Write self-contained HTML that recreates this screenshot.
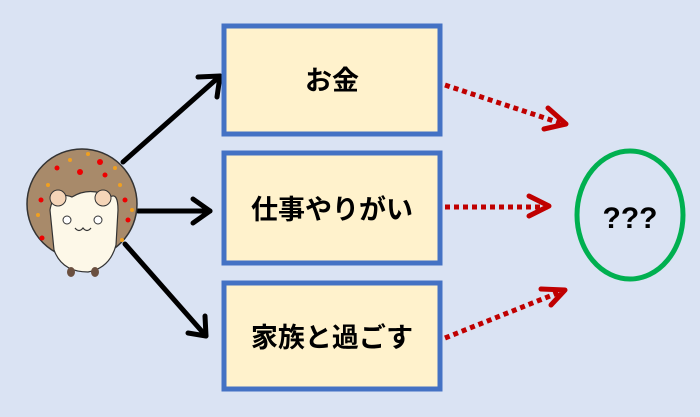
<!DOCTYPE html>
<html><head><meta charset="utf-8"><style>
body{margin:0;width:700px;height:417px;background:#dae3f3;overflow:hidden}
svg{display:block}
</style></head><body>
<svg width="700" height="417" viewBox="0 0 700 417">
<rect width="700" height="417" fill="#dae3f3"/>
<g stroke="#000" stroke-width="5" fill="none" stroke-linecap="round" stroke-linejoin="round">
<line x1="123" y1="162" x2="220" y2="76"/><polyline points="198,77 220,76 217,97"/>
<line x1="138" y1="211" x2="210" y2="211"/><polyline points="193,199 210,211 193,223"/>
<line x1="125" y1="244" x2="206" y2="336"/><polyline points="188,333 206,336 205,316"/>
</g>
<g stroke="#c00000" stroke-width="5" fill="none">
<line x1="445" y1="85" x2="560" y2="123" stroke-dasharray="5,4"/>
<line x1="445" y1="207" x2="548" y2="207" stroke-dasharray="5,4"/>
<line x1="445" y1="338" x2="560" y2="292" stroke-dasharray="5,4"/>
</g>
<g stroke="#c00000" stroke-width="5" fill="none" stroke-linecap="round" stroke-linejoin="round">
<polyline points="548,108 566,124 544,129"/>
<polyline points="529,196 549,206 529,216"/>
<polyline points="541,289 565,290 551,305"/>
</g>
<g fill="#fff2cc" stroke="#4472c4" stroke-width="5">
<rect x="224" y="26" width="216" height="108"/>
<rect x="224" y="153" width="216" height="110"/>
<rect x="224" y="283" width="216" height="106"/>
</g>
<g font-family="Liberation Sans,'Noto Sans CJK JP',sans-serif" font-weight="bold" font-size="27" text-anchor="middle" fill="#000">
<text x="332" y="90">お金</text>
<text x="332" y="219">仕事やりがい</text>
<text x="332" y="347">家族と過ごす</text>
<text x="630" y="228" font-size="30">???</text>
</g>
<ellipse cx="630" cy="215" rx="53" ry="64" fill="none" stroke="#00b050" stroke-width="5"/>
<!-- hedgehog -->
<circle cx="82" cy="204" r="55" fill="#a88a6a" stroke="#333" stroke-width="1.5"/>
<g fill="#e00">
<circle cx="100" cy="162" r="3"/><circle cx="80" cy="172" r="3"/><circle cx="57" cy="168" r="2.5"/><circle cx="105" cy="175" r="2.5"/><circle cx="125" cy="200" r="2.5"/><circle cx="41" cy="200" r="2.5"/><circle cx="42" cy="238" r="2.5"/><circle cx="128" cy="220" r="2.5"/>
</g>
<g fill="#f0a020">
<circle cx="88" cy="154" r="2"/><circle cx="70" cy="160" r="2"/><circle cx="115" cy="168" r="2"/><circle cx="48" cy="185" r="2"/><circle cx="120" cy="185" r="2"/><circle cx="38" cy="215" r="2"/><circle cx="132" cy="210" r="2"/><circle cx="122" cy="240" r="2"/>
</g>
<path d="M50,210 Q53,190 72,197 Q90,186 110,197 Q118,192 118,210 L116,245 Q110,268 88,272 Q62,272 54,250 Z" fill="#fdf8e8" stroke="#333" stroke-width="1.2"/>
<circle cx="58" cy="198" r="8" fill="#f5d5b8" stroke="#333"/>
<circle cx="103" cy="198" r="8" fill="#f5d5b8" stroke="#333"/>
<circle cx="67" cy="220" r="4" fill="#fff" stroke="#333"/>
<circle cx="98" cy="220" r="4" fill="#fff" stroke="#333"/>
<path d="M75,228 q4,5 8,0 q4,5 8,0" fill="none" stroke="#333" stroke-width="1.2"/>
<ellipse cx="71" cy="272" rx="4" ry="5" fill="#6b5040"/>
<ellipse cx="95" cy="272" rx="4" ry="5" fill="#6b5040"/>
</svg>
</body></html>
